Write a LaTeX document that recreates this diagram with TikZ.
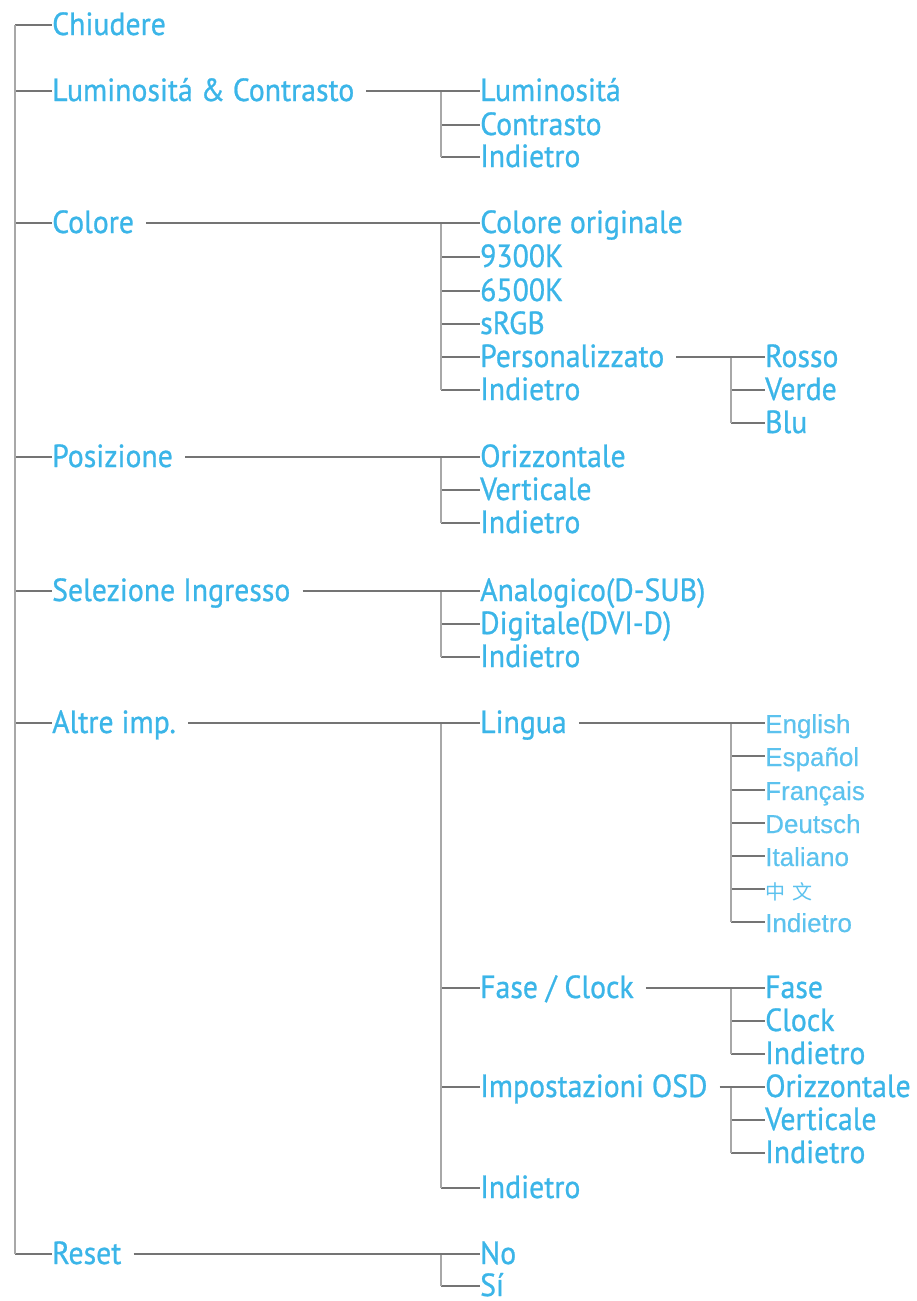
\documentclass[tikz,border=0pt]{standalone}
\usepackage{fontspec}
\setmainfont{PT Sans}[FakeStretch=0.93, FakeBold=0.8]
\newfontfamily\langfont{Liberation Sans}[FakeBold=0.5]
\newfontfamily\cjkfont{Noto Sans CJK SC}
\definecolor{osdblue}{HTML}{3BB5E8}
\definecolor{osdlight}{HTML}{5CC2EE}
\definecolor{osdtick}{HTML}{747474}
\definecolor{osdtrunk}{HTML}{A8A8A8}
\tikzset{
  mitem/.style={anchor=west, inner sep=0pt, text height=20pt, text depth=0pt, text=osdblue,
                font=\fontsize{32}{32}\selectfont},
  litem/.style={mitem, text=osdlight, font=\langfont\fontsize{26}{26}\selectfont},
  htick/.style={draw=osdtick, line width=1.6pt},
  vtrunk/.style={draw=osdtrunk, line width=2.6pt},
}
\begin{document}
\begin{tikzpicture}[x=1pt, y=-1pt]
  \useasboundingbox (0,0) rectangle (916,1301);
  \coordinate (t1) at (15,0);
  \coordinate (t2) at (441,0);
  \coordinate (t3) at (731,0);
  % livello 1
  \foreach \nm/\yy/\lab in {chiud/25/Chiudere, lumi/91/Luminositá \& Contrasto, colore/223/Colore,
      pos/457/Posizione, sel/591/Selezione Ingresso, altre/723/Altre imp., reset/1254/Reset} {
    \node[mitem] (\nm) at (52,\yy) {\lab};
    \draw[htick] (\nm.west -| t1) -- (\nm.west);
  }
  \draw[vtrunk] (chiud.west -| t1) -- (reset.west -| t1);
  % livello 2
  \foreach \nm/\yy/\lab in {lumlum/91/Luminositá, lumcon/125/Contrasto, lumind/157/Indietro,
      colorig/223/Colore originale, colnove/257/9300K, colsei/291/6500K, colsrgb/324/sRGB,
      colpers/357/Personalizzato, colind/390/Indietro,
      posori/457/Orizzontale, posver/490/Verticale, posind/523/Indietro,
      selana/591/Analogico(D-SUB), seldig/624/Digitale(DVI-D), selind/657/Indietro,
      lingua/723/Lingua, fase/988/{Fase / Clock}, osd/1087/Impostazioni OSD, altind/1188/Indietro,
      resno/1254/No, ressi/1286/Sí} {
    \node[mitem] (\nm) at (480,\yy) {\lab};
    \draw[htick] (\nm.west -| t2) -- (\nm.west);
  }
  % livello 3
  \foreach \nm/\yy/\lab in {rosso/357/Rosso, verde/390/Verde, blu/423/Blu,
      fasefase/988/Fase, faseclk/1021/Clock, faseind/1054/Indietro,
      osdori/1087/Orizzontale, osdver/1120/Verticale, osdind/1153/Indietro} {
    \node[mitem] (\nm) at (765,\yy) {\lab};
    \draw[htick] (\nm.west -| t3) -- (\nm.west);
  }
  \foreach \nm/\yy/\lab in {lgen/723/English, lges/756/Español, lgfr/790/Français,
      lgde/823/Deutsch, lgit/856/Italiano, lgzh/889/{\cjkfont\fontsize{20}{20}\selectfont 中\hspace{7pt}文}, lgind/922/Indietro} {
    \node[litem] (\nm) at (765,\yy) {\lab};
    \draw[htick] (\nm.west -| t3) -- (\nm.west);
  }
  % rami
  \foreach \parnm/\first/\last/\tr in {lumi/lumlum/lumind/t2, colore/colorig/colind/t2, pos/posori/posind/t2,
      sel/selana/selind/t2, altre/lingua/altind/t2, reset/resno/ressi/t2,
      colpers/rosso/blu/t3, lingua/lgen/lgind/t3, fase/fasefase/faseind/t3, osd/osdori/osdind/t3} {
    \draw[vtrunk] (\first.west -| \tr) -- (\last.west -| \tr);
    \draw[htick] ([xshift=12pt]\parnm.east) -- (\first.west);
  }
\end{tikzpicture}
\end{document}
